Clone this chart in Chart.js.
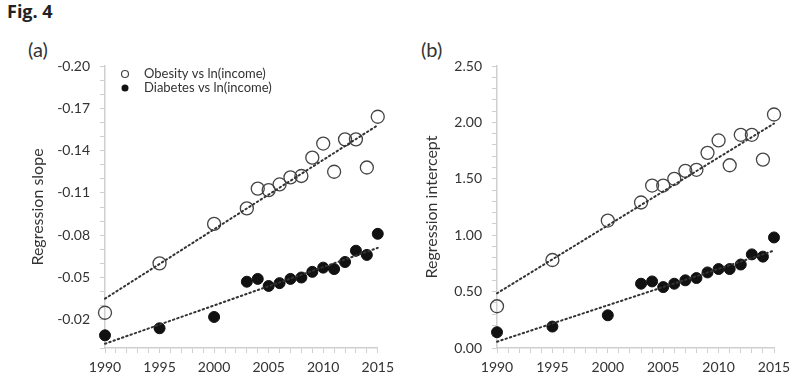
<!DOCTYPE html>
<html>
<head>
<meta charset="utf-8">
<script src="https://cdn.jsdelivr.net/npm/chart.js@4/dist/chart.umd.min.js"></script>
<style>
  body { margin: 0; background: #fff; width: 806px; height: 388px; position: relative; overflow: hidden; }
  .lbl { position: absolute; font-family: Lato, sans-serif; color: #333; line-height: 1; }
  canvas { position: absolute; top: 0; }
</style>
</head>
<body>
<div class="lbl" style="left:7px; top:2px; font-family:'Open Sans', sans-serif; font-weight:bold; font-size:18px; color:#222;">Fig. 4</div>
<div class="lbl" style="left:28px; top:39px; font-size:20px;">(a)</div>
<div class="lbl" style="left:421px; top:39px; font-size:20px;">(b)</div>
<div style="position:absolute; left:0; top:0; width:400px; height:388px;"><canvas id="slopeChart"></canvas></div>
<div style="position:absolute; left:400px; top:0; width:406px; height:388px;"><canvas id="interceptChart"></canvas></div>
<script>
// survey years
const years = [1990, 1995, 2000, 2003, 2004, 2005, 2006, 2007, 2008, 2009, 2010, 2011, 2012, 2013, 2014, 2015];

// (a) regression slope vs ln(income)
const obesitySlope = [-0.025, -0.060, -0.088, -0.099, -0.113, -0.112, -0.116, -0.121, -0.122, -0.135, -0.145, -0.125, -0.148, -0.148, -0.128, -0.164];
const diabetesSlope = [-0.009, -0.014, -0.022, -0.047, -0.049, -0.044, -0.046, -0.049, -0.050, -0.054, -0.057, -0.056, -0.061, -0.069, -0.066, -0.081];

// (b) regression intercept
const obesityIntercept = [0.37, 0.78, 1.13, 1.29, 1.44, 1.44, 1.50, 1.57, 1.58, 1.73, 1.84, 1.62, 1.89, 1.89, 1.67, 2.07];
const diabetesIntercept = [0.14, 0.19, 0.29, 0.57, 0.59, 0.54, 0.57, 0.60, 0.62, 0.67, 0.70, 0.70, 0.74, 0.83, 0.81, 0.98];

// fitted trend lines (end points)
const trendYears = [1990, 2015];
const obesitySlopeTrend = [-0.035, -0.158];
const diabetesSlopeTrend = [-0.003, -0.071];
const obesityInterceptTrend = [0.485, 1.99];
const diabetesInterceptTrend = [0.056, 0.863];

const seriesLabels = ['Obesity vs ln(income)', 'Diabetes vs ln(income)'];
const xTickLabels = [1990, 1995, 2000, 2005, 2010, 2015];

const textColor = '#333';
const axisColor = '#cfcfcf';
const font = { family: 'Lato, sans-serif', size: 14 };

function pts(xs, ys) {
  return xs.map((x, i) => ({ x: x, y: ys[i] }));
}

function buildDatasets(obesity, diabetes, obTrend, diTrend) {
  const trendStyle = {
    showLine: true, pointRadius: 0, borderColor: '#333', borderWidth: 2,
    borderDash: [1.5, 3], borderCapStyle: 'round', clip: false, fill: false
  };
  return [
    Object.assign({ label: 'trend-ob', data: pts(trendYears, obTrend) }, trendStyle),
    Object.assign({ label: 'trend-di', data: pts(trendYears, diTrend) }, trendStyle),
    {
      label: seriesLabels[0], data: pts(years, obesity),
      pointRadius: 6.5, borderColor: '#444', borderWidth: 1.3,
      backgroundColor: 'rgba(0,0,0,0)', pointBackgroundColor: 'rgba(0,0,0,0)', clip: false
    },
    {
      label: seriesLabels[1], data: pts(years, diabetes),
      pointRadius: 5.5, borderColor: '#111', borderWidth: 1,
      backgroundColor: '#111', pointBackgroundColor: '#111', clip: false
    }
  ];
}

// legend drawn inside the plot area (top left)
const innerLegend = {
  id: 'innerLegend',
  afterDatasetsDraw(chart, args, opts) {
    if (!opts.show) return;
    const ctx = chart.ctx;
    const x0 = chart.chartArea.left + 20;
    const y0 = chart.chartArea.top + 8;
    ctx.save();
    ctx.font = '13px Lato, sans-serif';
    ctx.textBaseline = 'middle';
    seriesLabels.forEach((lab, i) => {
      const y = y0 + i * 14;
      ctx.beginPath();
      ctx.arc(x0, y, 3.5, 0, Math.PI * 2);
      if (i === 0) {
        ctx.strokeStyle = '#444'; ctx.lineWidth = 1.2; ctx.stroke();
      } else {
        ctx.fillStyle = '#111'; ctx.fill();
      }
      ctx.fillStyle = textColor;
      ctx.fillText(lab, x0 + 19, y);
    });
    ctx.restore();
  }
};

function makeChart(id, datasets, yOpts, titleText, padLeft, yWidth, padRight, showLegend) {
  return new Chart(document.getElementById(id), {
    type: 'scatter',
    data: { datasets: datasets },
    plugins: [innerLegend],
    options: {
      responsive: true,
      maintainAspectRatio: false,
      animation: false,
      layout: { padding: { top: 66, left: padLeft, right: padRight, bottom: 0 } },
      plugins: {
        legend: { display: false },
        tooltip: { enabled: false },
        innerLegend: { show: showLegend }
      },
      scales: {
        x: {
          type: 'linear', min: 1990, max: 2015,
          afterFit: s => { s.height = 40; },
          border: { color: axisColor, width: 1.5 },
          grid: { drawOnChartArea: false, color: axisColor, tickLength: 5, lineWidth: 1 },
          afterBuildTicks: s => { s.ticks = []; for (let y = 1990; y <= 2015; y++) s.ticks.push({ value: y }); },
          ticks: {
            autoSkip: false, maxRotation: 0, color: textColor, font: font, padding: 6,
            callback: v => xTickLabels.includes(v) ? String(v) : ''
          }
        },
        y: Object.assign({
          afterFit: s => { s.width = yWidth; },
          border: { color: axisColor, width: 1.5 },
          grid: { drawOnChartArea: false, color: axisColor, tickLength: 5, lineWidth: 1 },
          title: { display: true, text: titleText, color: textColor, font: { family: 'Lato, sans-serif', size: 16 }, padding: { top: 0, bottom: 0 } }
        }, yOpts)
      }
    }
  });
}

makeChart('slopeChart',
  buildDatasets(obesitySlope, diabetesSlope, obesitySlopeTrend, diabetesSlopeTrend),
  {
    min: -0.20, max: 0, reverse: true,
    afterBuildTicks: s => { s.ticks = []; for (let i = 0; i <= 20; i++) s.ticks.push({ value: Math.round((-0.20 + i * 0.01) * 100) / 100 }); },
    ticks: {
      autoSkip: false, color: textColor, font: font, padding: 10,
      callback: (v, i) => (i % 3 === 0 && i < 20) ? v.toFixed(2) : ''
    }
  },
  'Regression slope', 28, 77, 17, true);

makeChart('interceptChart',
  buildDatasets(obesityIntercept, diabetesIntercept, obesityInterceptTrend, diabetesInterceptTrend),
  {
    min: 0, max: 2.5,
    afterBuildTicks: s => { s.ticks = []; for (let i = 0; i <= 25; i++) s.ticks.push({ value: Math.round(i * 10) / 100 }); },
    ticks: {
      autoSkip: false, color: textColor, font: font, padding: 10,
      callback: (v, i) => (i % 5 === 0) ? v.toFixed(2) : ''
    }
  },
  'Regression intercept', 22, 75, 32, false);
</script>
</body>
</html>
